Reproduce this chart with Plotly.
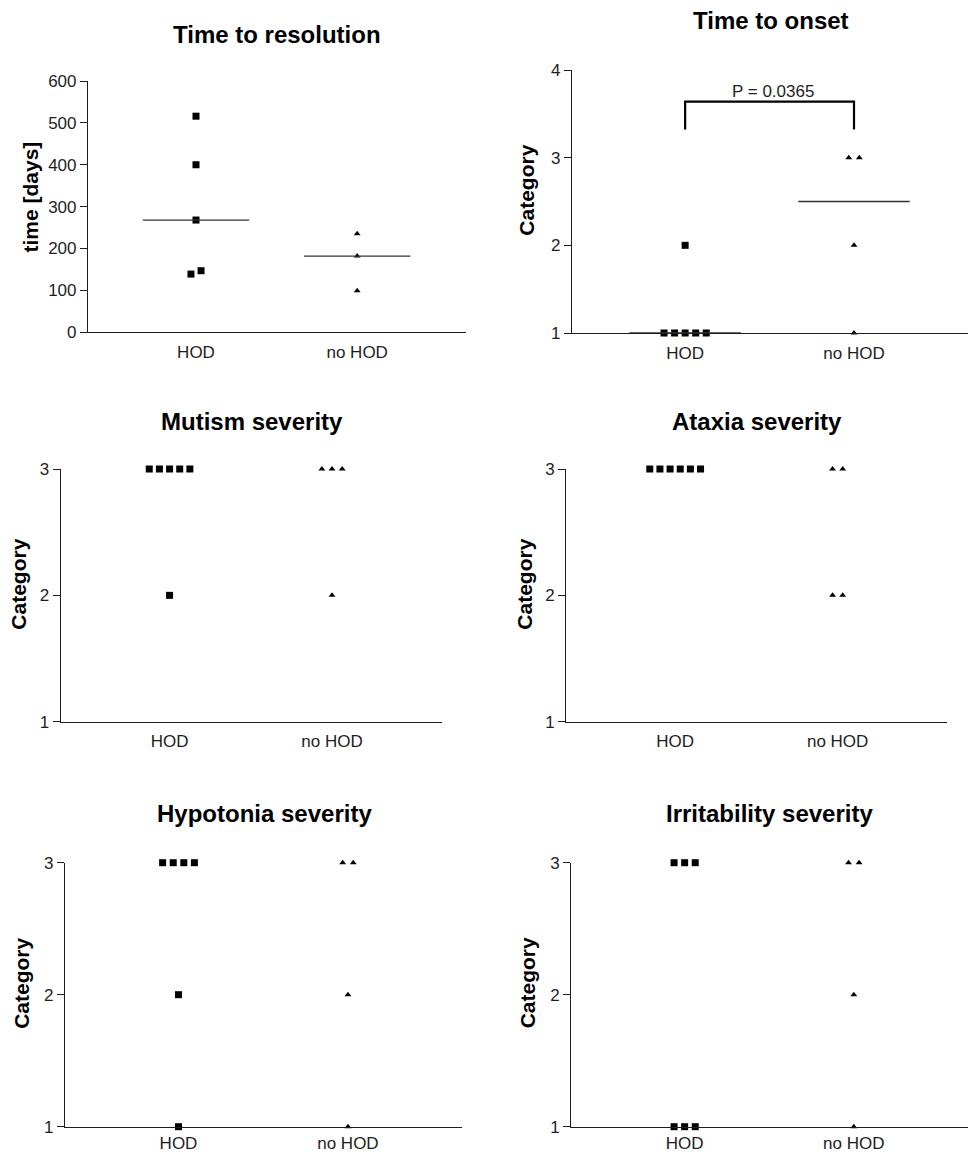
import numpy as np
import plotly.graph_objects as go

# ---------------- data ----------------
categories = ["HOD", "no HOD"]

resolution_hod = [516, 400, 268, 139, 147]
resolution_nohod = [235, 182, 99]

onset_hod = [1, 1, 1, 1, 1, 2]
onset_nohod = [3, 3, 2, 1]

mutism_hod = [3, 3, 3, 3, 3, 2]
mutism_nohod = [3, 3, 3, 2]

ataxia_hod = [3, 3, 3, 3, 3, 3]
ataxia_nohod = [3, 3, 2, 2]

hypotonia_hod = [3, 3, 3, 3, 2, 1]
hypotonia_nohod = [3, 3, 2, 1]

irritability_hod = [3, 3, 3, 1, 1, 1]
irritability_nohod = [3, 3, 2, 1]

p_value_onset = "P = 0.0365"

# ---------------- style / layout ----------------
W, H = 968, 1154
FONT = "Liberation Sans, Arial, Helvetica, sans-serif"
INK = "#1e1e1e"
XRANGE = [-0.67, 1.675]
STEP = 0.0625          # horizontal spacing of overlapping points (x units)
MED_HALF = 0.33        # half width of median line

panels = [
    dict(title="Time to resolution", ytitle="time [days]",
         hod=resolution_hod, nohod=resolution_nohod,
         yrange=[0, 600], dtick=100, box=(88, 466, 81, 332.3),
         title_xy=(277, 35), ytitle_xy=(30, 197.5), median=True, standoff=4),
    dict(title="Time to onset", ytitle="Category",
         hod=onset_hod, nohod=onset_nohod,
         yrange=[1, 4], dtick=1, box=(572, 968, 70, 333),
         title_xy=(771, 20.5), ytitle_xy=(527, 190.7), median=True, standoff=4),
    dict(title="Mutism severity", ytitle="Category",
         hod=mutism_hod, nohod=mutism_nohod,
         yrange=[1, 3], dtick=1, box=(60.7, 441.7, 469, 721.7),
         title_xy=(251.7, 421), ytitle_xy=(19, 584.7), median=False, standoff=4),
    dict(title="Ataxia severity", ytitle="Category",
         hod=ataxia_hod, nohod=ataxia_nohod,
         yrange=[1, 3], dtick=1, box=(566.3, 947.3, 469, 721.7),
         title_xy=(756.7, 421.3), ytitle_xy=(525, 584.7), median=False, standoff=4),
    dict(title="Hypotonia severity", ytitle="Category",
         hod=hypotonia_hod, nohod=hypotonia_nohod,
         yrange=[1, 3], dtick=1, box=(65, 462.3, 862.7, 1126.7),
         title_xy=(264.3, 813.3), ytitle_xy=(21.5, 983.3), median=False, standoff=1),
    dict(title="Irritability severity", ytitle="Category",
         hod=irritability_hod, nohod=irritability_nohod,
         yrange=[1, 3], dtick=1, box=(571.3, 968, 862.7, 1126.7),
         title_xy=(769, 813.3), ytitle_xy=(527, 983.3), median=False, standoff=1),
]


def scatter_offsets(values, yspan):
    """Spread points horizontally when their values (nearly) coincide."""
    vals = np.asarray(values, dtype=float)
    order = np.argsort(vals, kind="stable")
    thr = 0.03 * yspan
    groups, cur = [], [order[0]]
    for idx in order[1:]:
        if vals[idx] - vals[cur[-1]] <= thr:
            cur.append(idx)
        else:
            groups.append(cur)
            cur = [idx]
    groups.append(cur)
    off = np.zeros(len(vals))
    for g in groups:
        n = len(g)
        for k, idx in enumerate(g):
            off[idx] = (k - (n - 1) / 2) * STEP
    return vals, off


fig = go.Figure()
annotations = []
shapes = []

for i, p in enumerate(panels, start=1):
    xa = "x" if i == 1 else f"x{i}"
    ya = "y" if i == 1 else f"y{i}"
    yspan = p["yrange"][1] - p["yrange"][0]
    groups = [(p["hod"], "square", 7), (p["nohod"], "triangle-up", 6)]
    for ci, (vals, sym, size) in enumerate(groups):
        v, off = scatter_offsets(vals, yspan)
        fig.add_trace(go.Scatter(
            x=ci + off, y=v, mode="markers",
            marker=dict(symbol=sym, size=size, color="black",
                        line=dict(width=0)),
            cliponaxis=False, showlegend=False, xaxis=xa, yaxis=ya,
            hoverinfo="y"))
        if p["median"]:
            med = float(np.median(v))
            fig.add_trace(go.Scatter(
                x=[ci - MED_HALF, ci + MED_HALF], y=[med, med], mode="lines",
                line=dict(color="#333333", width=1.3),
                cliponaxis=False, showlegend=False, xaxis=xa, yaxis=ya,
                hoverinfo="skip"))

    x0, x1, top, bot = p["box"]
    axis_common = dict(showgrid=False, zeroline=False, showline=True,
                       linecolor=INK, linewidth=1.2, automargin=False,
                       tickfont=dict(family=FONT, size=17, color=INK))
    fig.update_layout(**{
        ("xaxis" if i == 1 else f"xaxis{i}"): dict(
            domain=[x0 / W, min(x1 / W, 1.0)], range=XRANGE,
            tickmode="array", tickvals=[0, 1], ticktext=categories,
            ticks="", ticklabelstandoff=p["standoff"], anchor=ya,
            fixedrange=True, **axis_common),
        ("yaxis" if i == 1 else f"yaxis{i}"): dict(
            domain=[1 - bot / H, 1 - top / H], range=p["yrange"],
            tick0=p["yrange"][0], dtick=p["dtick"],
            ticks="outside", ticklen=7, tickwidth=1.2, tickcolor=INK,
            anchor=xa, fixedrange=True, **axis_common),
    })

    tx, ty = p["title_xy"]
    annotations.append(dict(
        text=p["title"], x=tx / W, y=1 - ty / H, xref="paper", yref="paper",
        xanchor="center", yanchor="middle", showarrow=False,
        font=dict(family=FONT, size=24, color="black", weight="bold")))
    yx, yy = p["ytitle_xy"]
    annotations.append(dict(
        text=p["ytitle"], x=yx / W, y=1 - yy / H, xref="paper", yref="paper",
        xanchor="center", yanchor="middle", showarrow=False, textangle=-90,
        font=dict(family=FONT, size=21, color="black", weight="bold")))

# significance bracket on "Time to onset"
br_top, br_bot = 3.64, 3.32
shapes.append(dict(
    type="path", xref="x2", yref="y2",
    path=f"M 0,{br_bot} L 0,{br_top} L 1,{br_top} L 1,{br_bot}",
    line=dict(color="black", width=2.2)))
annotations.append(dict(
    text=p_value_onset, x=0.52, y=br_top, xref="x2", yref="y2",
    xanchor="center", yanchor="bottom", yshift=-1, showarrow=False,
    font=dict(family=FONT, size=17, color=INK)))

fig.update_layout(
    width=W, height=H, autosize=False,
    margin=dict(l=0, r=0, t=0, b=0, pad=0, autoexpand=False),
    paper_bgcolor="white", plot_bgcolor="white",
    annotations=annotations, shapes=shapes, showlegend=False,
    font=dict(family=FONT, color=INK),
)

fig.write_html(
    "out.html",
    config={"responsive": False, "displayModeBar": False},
    post_script="document.body.style.margin='0';document.body.style.overflow='hidden';",
)
